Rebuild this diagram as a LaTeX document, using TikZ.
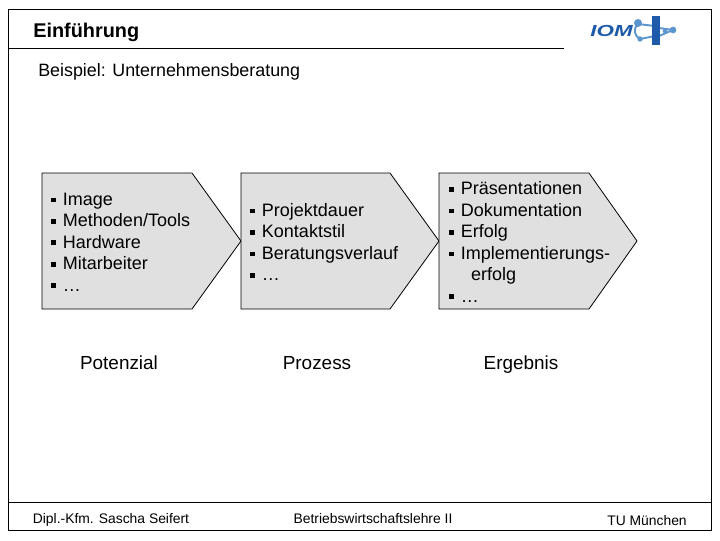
\documentclass[tikz,border=0pt]{standalone}
\usepackage{fontspec}
\setmainfont{Liberation Sans}
\definecolor{chev}{RGB}{224,224,224}
\definecolor{iom}{RGB}{30,90,170}
\definecolor{iomb}{RGB}{90,150,205}
\newcommand{\bul}{\raisebox{0.16em}{\rule{0.27em}{0.27em}}\hspace{0.38em}}
\tikzset{
  chevbox/.style={draw=black,line width=0.6pt,fill=chev},
  frameline/.style={draw=black,line width=0.7pt},
  list/.style={anchor=west,align=left,inner sep=0pt,font=\fontsize{13.5}{16.1}\selectfont},
  caption/.style={anchor=base,inner sep=0pt,font=\fontsize{14.2}{15}\selectfont},
  foot/.style={anchor=base,inner sep=0pt,font=\fontsize{10.4}{12}\selectfont},
  ball/.style={circle,inner sep=0pt,minimum size=#1,fill=iomb}
}
\begin{document}
\begin{tikzpicture}[x=0.75pt,y=-0.75pt]
\useasboundingbox (0,0) rectangle (720,540);
\fill[white] (0,0) rectangle (720,540);
\coordinate (ftl) at (8,9); \coordinate (fbr) at (711,530);
\draw[frameline] (ftl) rectangle (fbr);
\coordinate (hl) at (8,48); \coordinate (hr) at (564,48);
\draw[frameline] (hl) -- (hr);
\coordinate (fl) at (8,502); \coordinate (fr) at (711,502);
\draw[frameline] (fl) -- (fr);
\node[anchor=base west,inner sep=0pt,font=\fontsize{14.9}{17}\selectfont\bfseries] (title) at (33,37) {Einführung};
\node[anchor=base west,inner sep=0pt,font=\fontsize{13.4}{15}\selectfont] (sub) at (38,76) {Beispiel: Unternehmensberatung};
% chevrons
\draw[chevbox] (42,173) -- (192,173) -- (241,241) -- (192,309) -- (42,309) -- cycle;
\draw[chevbox] (241,173) -- (390,173) -- (439,241) -- (390,309) -- (241,309) -- cycle;
\draw[chevbox] (439,173) -- (589,173) -- (637,241) -- (589,309) -- (439,309) -- cycle;
\node[list] (l1) at (51,242) {\bul Image\\\bul Methoden/Tools\\\bul Hardware\\\bul Mitarbeiter\\\bul …};
\node[list] (l2) at (250,242) {\bul Projektdauer\\\bul Kontaktstil\\\bul Beratungsverlauf\\\bul …};
\node[list] (l3) at (449,242) {\bul Präsentationen\\\bul Dokumentation\\\bul Erfolg\\\bul Implementierungs-\\\hspace*{1.22em}erfolg\\\bul …};
\node[caption] (c1) at (119,369) {Potenzial};
\node[caption] (c2) at (317,369) {Prozess};
\node[caption] (c3) at (521,369) {Ergebnis};
\node[foot] (f1) at (111,523) {Dipl.-Kfm. Sascha Seifert};
\node[foot] (f2) at (373,523) {Betriebswirtschaftslehre II};
\node[foot] (f3) at (647,525) {TU München};
% logo
\draw[iomb,line width=1.4pt] (638,24) .. controls (633,28) and (634,36) .. (640,39);
\draw[iomb,line width=1.4pt] (638,24) -- (655,26);
\draw[iomb,line width=1.4pt] (640,39) -- (655,36);
\draw[iomb,line width=1.4pt] (659,28) -- (673,30);
\draw[iomb,line width=1.4pt] (659,36) -- (673,30);
\fill[iom] (652,16) rectangle (660,45);
\node[ball=6pt] (b1) at (638,23) {};
\node[ball=4pt] (b2) at (640,39) {};
\node[ball=3.5pt] (b3) at (665,31) {};
\node[ball=5pt] (b4) at (673,30) {};
\node[anchor=base east,inner sep=0pt,text=iom,font=\fontsize{12}{14}\selectfont\bfseries\itshape] (iomt) at (633,36) {\scalebox{1.4}[1]{IOM}};
\end{tikzpicture}
\end{document}
